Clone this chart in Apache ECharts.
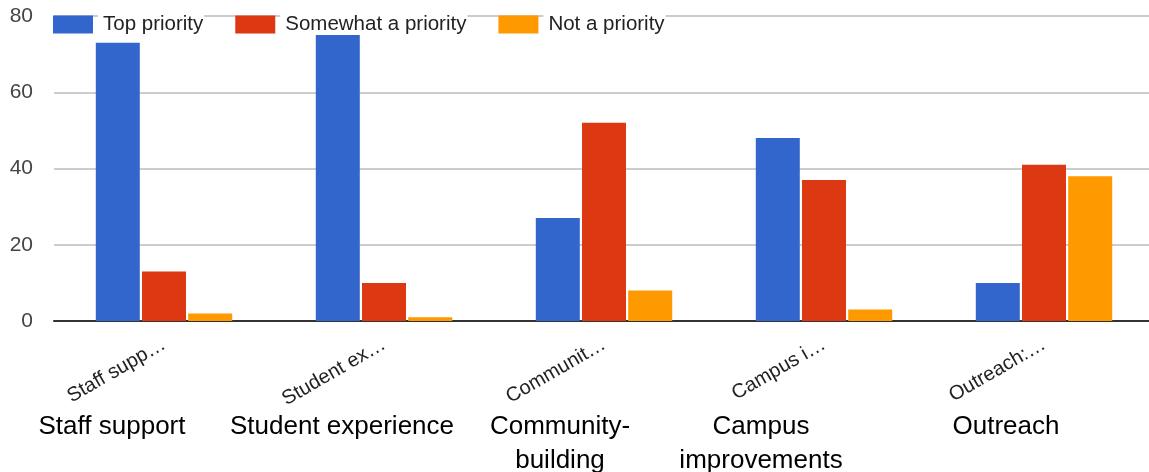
<!DOCTYPE html>
<html><head><meta charset="utf-8">
<script src="https://cdn.jsdelivr.net/npm/echarts@6/dist/echarts.min.js"></script>
<style>html,body{margin:0;padding:0;background:#fff}#c{width:1149px;height:472px}</style>
</head><body><div id="c"></div>
<script>
const shortLabels = ['Staff supp…', 'Student ex…', 'Communit…', 'Campus i…', 'Outreach:…'];
const fullLabels = ['Staff support', 'Student experience', 'Community-\nbuilding', 'Campus\nimprovements', 'Outreach'];
const seriesNames = ['Top priority', 'Somewhat a priority', 'Not a priority'];
const topPriority = [73, 76, 27, 48, 10];
const somewhatPriority = [13, 10, 52, 37, 41];
const notPriority = [2, 1, 8, 3, 38];
const yTicks = [0, 20, 40, 60, 80];

// layout: how far each caption sits left of its category centre (px)
const captionShift = [52, 42, 44, 63, 38];

const colors = ['#3366cc', '#dc3912', '#ff9900'];
const values = [topPriority, somewhatPriority, notPriority];
const chart = echarts.init(document.getElementById('c'));
chart.setOption({
  animation: false,
  color: colors,
  textStyle: { fontFamily: 'Liberation Sans, Arial, sans-serif' },
  legend: {
    top: 9, left: 48, itemWidth: 40, itemHeight: 18, itemGap: 31,
    icon: 'rect',
    textStyle: { fontSize: 20.5, color: '#222', backgroundColor: '#fff', padding: [0, 1, 0, 5] },
    data: seriesNames
  },
  grid: { left: 54, right: -5, top: 16, bottom: 151, outerBoundsMode: 'none', containLabel: false },
  xAxis: [{
    type: 'category', data: shortLabels, position: 'bottom',
    axisLine: { lineStyle: { color: '#333', width: 2 } },
    axisTick: { show: false },
    axisLabel: { rotate: 30, fontSize: 20, color: '#222', margin: 22, interval: 0 }
  }, {
    type: 'category', position: 'bottom', offset: 89,
    data: fullLabels.map((t, i) => ({ value: t, textStyle: { padding: [0, captionShift[i] * 2, 0, 0] } })),
    axisLine: { show: false }, axisTick: { show: false },
    axisLabel: { fontSize: 26, color: '#000', margin: 0, lineHeight: 34, interval: 0 }
  }],
  yAxis: {
    type: 'value', min: yTicks[0], max: yTicks[yTicks.length - 1], interval: 20,
    axisLine: { show: false }, axisTick: { show: false },
    axisLabel: { fontSize: 21, color: '#444', margin: 21 },
    splitLine: { lineStyle: { color: '#ccc', width: 2 } }
  },
  series: seriesNames.map((n, i) => ({
    name: n, type: 'bar', data: values[i], xAxisIndex: 0,
    barWidth: 44, barGap: '5%',
    itemStyle: { color: colors[i] }
  }))
});
</script></body></html>
